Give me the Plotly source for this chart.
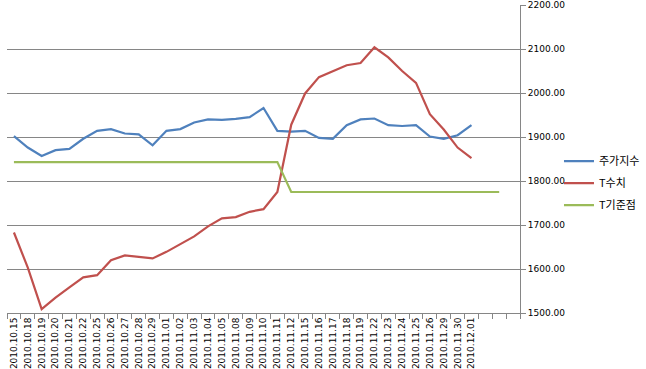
import plotly.graph_objects as go

dates = ["2010.10.15", "2010.10.18", "2010.10.19", "2010.10.20", "2010.10.21", "2010.10.22",
         "2010.10.25", "2010.10.26", "2010.10.27", "2010.10.28", "2010.10.29", "2010.11.01",
         "2010.11.02", "2010.11.03", "2010.11.04", "2010.11.05", "2010.11.08", "2010.11.09",
         "2010.11.10", "2010.11.11", "2010.11.12", "2010.11.15", "2010.11.16", "2010.11.17",
         "2010.11.18", "2010.11.19", "2010.11.22", "2010.11.23", "2010.11.24", "2010.11.25",
         "2010.11.26", "2010.11.29", "2010.11.30", "2010.12.01"]
blank_categories = [" ", "  ", "   "]
categories = dates + blank_categories

kospi = [1902, 1876, 1857, 1870, 1873, 1896, 1914, 1918, 1908, 1906, 1881, 1914,
         1918, 1933, 1940, 1939, 1941, 1945, 1966, 1914, 1912, 1914, 1898, 1896,
         1927, 1940, 1942, 1927, 1925, 1927, 1901, 1896, 1904, 1927]
t_value = [1683, 1603, 1509, 1535, 1558, 1581, 1586, 1620, 1631, 1627, 1624, 1639,
           1656, 1674, 1697, 1715, 1718, 1730, 1736, 1775, 1928, 1999, 2036, 2050,
           2063, 2068, 2104, 2081, 2050, 2023, 1952, 1917, 1876, 1852]
t_base = [1843] * 20 + [1775] * 16

names = ["주가지수", "T수치", "T기준점"]
colors = ["#4F81BD", "#C0504D", "#9BBB59"]

fig = go.Figure()
for name, vals, col in zip(names, [kospi, t_value, t_base], colors):
    fig.add_trace(go.Scatter(x=categories[:len(vals)], y=vals, mode="lines", name=name,
                             legendgroup=name,
                             line=dict(color=col, width=2.2)))

fig.update_layout(
    width=646, height=369,
    margin=dict(l=7, r=126, t=5, b=56, autoexpand=False),
    paper_bgcolor="white", plot_bgcolor="white",
    font=dict(family="Noto Sans CJK KR, Liberation Sans, sans-serif", size=10, color="black"),
    legend=dict(x=1.076, y=0.54, xanchor="left", yanchor="top",
                font=dict(size=11, family="Noto Sans CJK KR"),
                tracegroupgap=3, itemwidth=30, bgcolor="rgba(0,0,0,0)"),
    showlegend=True,
)
fig.update_xaxes(
    type="category", categoryorder="array", categoryarray=categories,
    range=[-0.5, len(categories) - 0.5],
    tickson="boundaries", ticks="outside", ticklen=5, tickcolor="#868686",
    showline=True, linecolor="#868686", linewidth=1, showgrid=False,
    tickangle=-90, tickfont=dict(size=9, family="DejaVu Sans"), automargin=False,
)
fig.update_yaxes(
    side="right", range=[1500, 2200], dtick=100, tickformat=".2f",
    showgrid=True, gridcolor="#868686", gridwidth=1,
    showline=True, linecolor="#868686", linewidth=1,
    ticks="outside", ticklen=5, tickcolor="#868686",
    tickfont=dict(size=9, family="DejaVu Sans"), zeroline=False, automargin=False,
)

fig.write_html("out.html")
